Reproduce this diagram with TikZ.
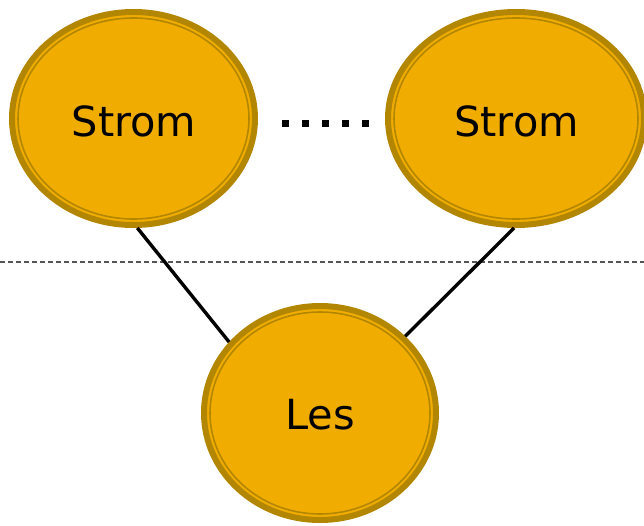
\documentclass[tikz,border=0pt]{standalone}
\usepackage{fontspec}
\setmainfont{DejaVu Sans}
\usetikzlibrary{shapes.geometric}
\definecolor{fillc}{HTML}{F0AD00}
\definecolor{bordc}{HTML}{B38600}
\definecolor{dashc}{HTML}{555555}
\tikzset{
  ent/.style={ellipse, fill=fillc, draw=bordc, line width=6pt, inner sep=0pt,
    font=\fontsize{41.5}{48}\selectfont},
  innerring/.style={draw=bordc, line width=1.6pt},
  link/.style={line width=3.4pt, black},
  lbl/.style={font=\fontsize{41.5}{48}\selectfont, inner sep=0pt},
}
\begin{document}
\begin{tikzpicture}[x=1pt,y=-1pt]
\useasboundingbox (0,0) rectangle (644,525);
\draw[dashc, line width=1.5pt, dash pattern=on 5pt off 3pt] (0,262) -- (644,262);
\node[ent, minimum width=243pt, minimum height=213pt] (s1) at (133.5,118.5) {};
\node[ent, minimum width=256pt, minimum height=213pt] (s2) at (516,118.5) {};
\node[ent, minimum width=232pt, minimum height=214pt] (les) at (320,413) {};
\node[lbl] (t1) at (134,121) {Strom};
\node[lbl] (t2) at (516.5,121) {Strom};
\node[lbl] (t3) at (320,415) {Les};
\draw[innerring] (s1.center) ellipse[x radius=115.5pt, y radius=100.5pt];
\draw[innerring] (s2.center) ellipse[x radius=122pt, y radius=100.5pt];
\draw[innerring] (les.center) ellipse[x radius=110pt, y radius=101pt];
\draw[link] (s1.-88) -- (les.142);
\draw[link] (s2.-91) -- (les.42);
\draw[line width=7pt, dash pattern=on 7pt off 13pt] (282,123) -- (370,123);
\end{tikzpicture}
\end{document}
